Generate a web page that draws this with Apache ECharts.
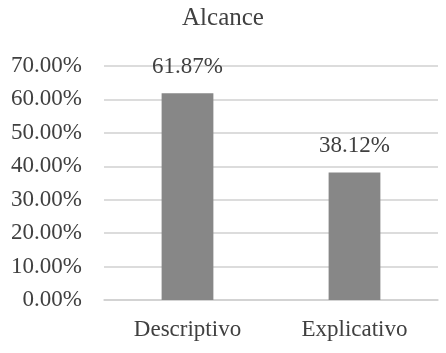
<!DOCTYPE html>
<html><head><meta charset="utf-8">
<script src="https://cdn.jsdelivr.net/npm/echarts@6/dist/echarts.min.js"></script>
<style>html,body{margin:0;padding:0;background:#fff}#c{width:446px;height:353px}</style>
</head><body><div id="c"></div>
<script>
const categories = ['Descriptivo', 'Explicativo'];
const values = [61.87, 38.12];
const yTicks = {min: 0, max: 70, interval: 10};
const titleText = 'Alcance';

const FONT = 'Liberation Serif';
const chart = echarts.init(document.getElementById('c'), null, {renderer: 'canvas'});
chart.setOption({
  animation: false,
  title: {text: titleText, left: 'center', top: 1,
    textStyle: {fontFamily: FONT, fontSize: 25, fontWeight: 'normal', color: '#404040'}},
  grid: {left: 104, right: 8, top: 66, bottom: 53},
  xAxis: {type: 'category', data: categories,
    axisLine: {show: true, lineStyle: {color: '#d0d0d0', width: 1.5}},
    axisTick: {show: false},
    axisLabel: {fontFamily: FONT, fontSize: 23, color: '#404040', margin: 18}},
  yAxis: {type: 'value', min: yTicks.min, max: yTicks.max, interval: yTicks.interval,
    axisLine: {show: false}, axisTick: {show: false},
    splitLine: {lineStyle: {color: '#d0d0d0', width: 1.5}},
    axisLabel: {fontFamily: FONT, fontSize: 23, color: '#404040', margin: 22,
      formatter: v => v.toFixed(2) + '%'}},
  series: [{type: 'bar', data: values, barWidth: '31%',
    itemStyle: {color: '#878787'},
    label: {show: true, position: 'top', distance: 15, fontFamily: FONT, fontSize: 23, color: '#404040',
      formatter: p => p.value.toFixed(2) + '%'}}]
});
</script></body></html>
